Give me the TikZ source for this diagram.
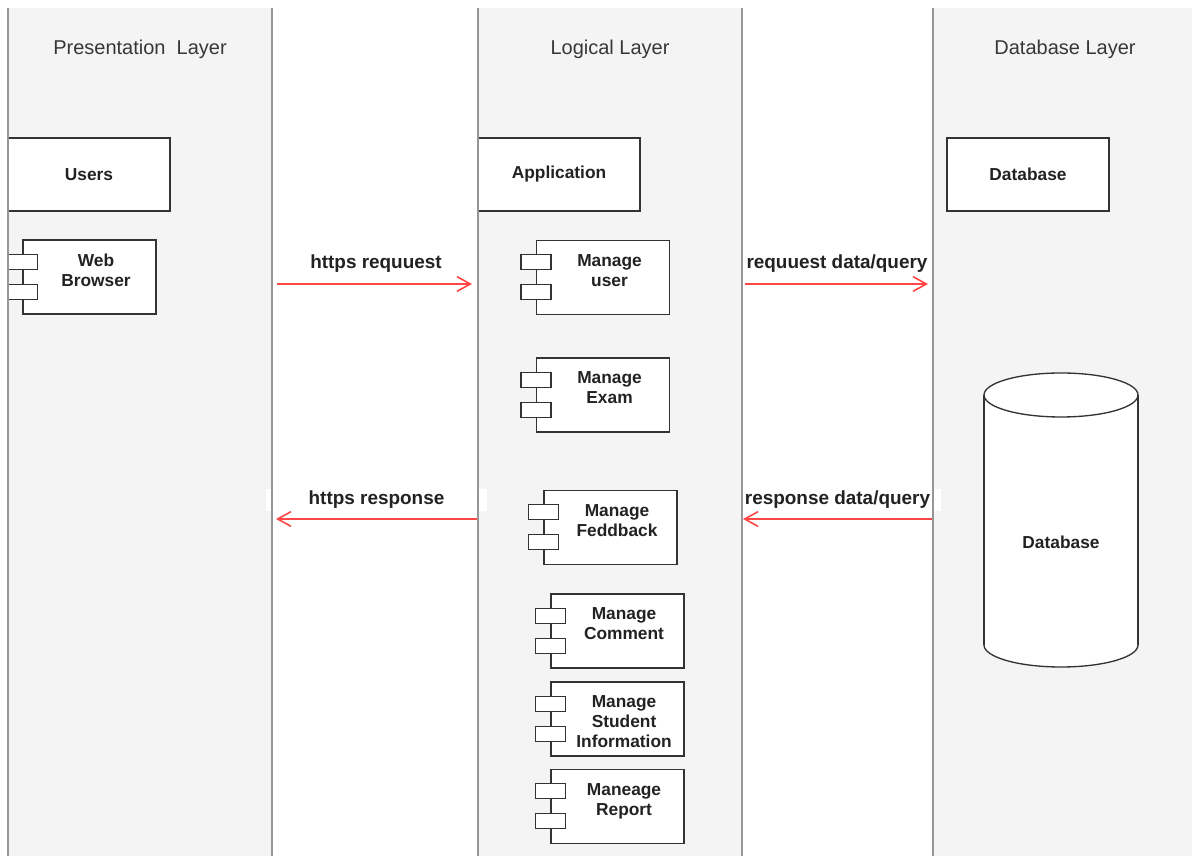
\documentclass[tikz,border=0pt]{standalone}
\usepackage{fontspec}
\setmainfont{Liberation Sans}
\usetikzlibrary{arrows.meta}
\definecolor{lanecol}{RGB}{244,244,244}
\definecolor{linecol}{RGB}{150,150,150}
\definecolor{boxcol}{RGB}{51,51,51}
\definecolor{txtcol}{RGB}{34,34,34}
\definecolor{ttlcol}{RGB}{55,55,55}
\definecolor{rcol}{RGB}{255,70,70}
\tikzset{every picture/.style={x=0.75pt,y=0.75pt}}
\tikzset{lane/.style={fill=lanecol,inner sep=0pt,outer sep=0pt,minimum height=636pt}}
\tikzset{laneline/.style={linecol,line width=1pt}}
\tikzset{title/.style={text=ttlcol,font=\fontsize{15}{18}\selectfont}}
\tikzset{box/.style={draw=boxcol,fill=white,line width=1pt,minimum width=121.5pt,minimum height=54.75pt,inner sep=0pt,text=txtcol,font=\bfseries\fontsize{13}{15}\selectfont}}
\tikzset{comptext/.style={anchor=north,inner sep=0pt,align=center,xshift=4.9pt,yshift=-10.5pt,text=txtcol,font=\bfseries\fontsize{13}{15}\selectfont}}
\tikzset{comp/.style={draw=boxcol,fill=white,line width=1pt,minimum width=99.75pt,minimum height=55.5pt,inner sep=0pt,label={[comptext]north:#1}}}
\tikzset{tab/.style={draw=boxcol,fill=white,line width=1pt}}
\tikzset{edge/.style={rcol,line width=1.2pt,-{Straight Barb[length=10pt,width=11pt]}}}
\tikzset{elabel/.style={inner xsep=0pt,inner ysep=2pt,text=txtcol,font=\bfseries\fontsize{14.2}{17}\selectfont}}

\begin{document}
\begin{tikzpicture}
\useasboundingbox (0,0) rectangle (1192,856);

\node [lane,minimum width=198pt] (plane) at (140,424) {};
\node [lane,minimum width=198pt] (llane) at (610,424) {};
\node [lane,minimum width=194.25pt] (dlane) at (1062.5,424) {};

\node [title] (ptitle) at (140,807) {Presentation\ \ Layer};
\node [title] (ltitle) at (610,807) {Logical Layer};
\node [title] (dtitle) at (1065,807) {Database Layer};

\node [box] (users) at (89,681.5) {Users};
\node [box] (app) at (559,681.5) {Application};
\node [box] (dbbox) at (1028,681.5) {Database};

\node [comp={Web\\Browser}] (web) at (89.5,579) {};
\node [comp={Manage\\user}] (muser) at (603,578.5) {};
\node [comp={Manage\\Exam}] (mexam) at (603,461) {};
\node [comp={Manage\\Feddback}] (mfeed) at (610.5,328.5) {};
\node [comp={Manage\\Comment}] (mcomm) at (617.5,225) {};
\node [comp={Manage\\Student\\Information}] (mstud) at (617.5,137) {};
\node [comp={Maneage\\Report}] (mrep) at (617.5,49.5) {};

\foreach \c in {web,muser,mexam,mfeed,mcomm,mstud,mrep} {
  \draw [tab] ([xshift=-11.25pt,yshift=-11.25pt]\c.north west) rectangle ++(30,-15);
  \draw [tab] ([xshift=-11.25pt,yshift=-33.75pt]\c.north west) rectangle ++(30,-15);
}

\node [minimum width=115.5pt,minimum height=187.5pt,inner sep=0pt,outer sep=0pt] (dbcyl) at (1061,314) {};
\fill [white] ([yshift=16.5pt]dbcyl.north west) -- ([yshift=16.5pt]dbcyl.south west)
  arc [start angle=180,end angle=360,x radius=77,y radius=22] -- ([yshift=16.5pt]dbcyl.north east)
  arc [start angle=0,end angle=180,x radius=77,y radius=22] -- cycle;
\draw [boxcol,line width=1pt] ([yshift=16.5pt]dbcyl.north) ellipse [x radius=77,y radius=22];
\draw [boxcol,line width=1pt] ([yshift=16.5pt]dbcyl.north west) -- ([yshift=16.5pt]dbcyl.south west);
\draw [boxcol,line width=1pt] ([yshift=16.5pt]dbcyl.north east) -- ([yshift=16.5pt]dbcyl.south east);
\draw [boxcol,line width=1pt] ([yshift=16.5pt]dbcyl.south west) arc [start angle=180,end angle=360,x radius=77,y radius=22];
\node [text=txtcol,font=\bfseries\fontsize{13}{15}\selectfont] (dbtext) at (dbcyl) {Database};

\coordinate (hq1) at (277,572);
\coordinate (hq2) at (472,572);
\coordinate (dq1) at (745,572);
\coordinate (dq2) at (928,572);
\coordinate (hr1) at (478,337);
\coordinate (hr2) at (276,337);
\coordinate (dr1) at (932,337);
\coordinate (dr2) at (743,337);

\draw [edge] (hq1) -- (hq2);
\draw [edge] (dq1) -- (dq2);
\draw [edge] (hr1) -- (hr2);
\draw [edge] (dr1) -- (dr2);

\node [elabel] (hqlbl) at (376,592) {https requuest};
\node [elabel] (dqlbl) at (837,592) {requuest data/query};
\node [elabel,fill=white,minimum width=165.75pt] (hrlbl) at (376.5,356) {https response};
\node [elabel,fill=white,minimum width=149.25pt] (drlbl) at (841.5,356) {response data/query\rule{6pt}{0pt}};

\draw [laneline] (plane.north west) -- (plane.south west);
\draw [laneline] (plane.north east) -- (plane.south east);
\draw [laneline] (llane.north west) -- (llane.south west);
\draw [laneline] (llane.north east) -- (llane.south east);
\draw [laneline] (dlane.north west) -- (dlane.south west);
\end{tikzpicture}
\end{document}
